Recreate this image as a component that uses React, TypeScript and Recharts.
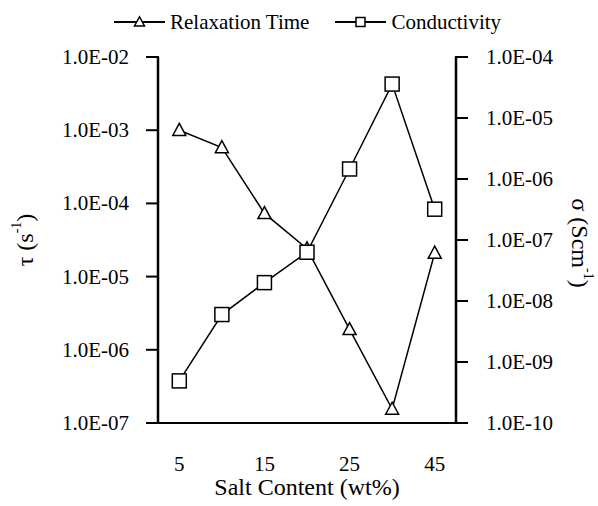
import { Legend, Line, LineChart, XAxis, YAxis } from "recharts";

const saltContent = ["5", "10", "15", "20", "25", "35", "45"];
const relaxationTime = [1.0e-3, 5.8e-4, 7.3e-5, 2.4e-5, 1.9e-6, 1.55e-7, 2.1e-5];
const conductivity = [4.9e-10, 6.0e-9, 2.0e-8, 6.3e-8, 1.46e-6, 3.6e-5, 3.2e-7];
const tauTicks = [1e-7, 1e-6, 1e-5, 1e-4, 1e-3, 1e-2];
const sigmaTicks = [1e-10, 1e-9, 1e-8, 1e-7, 1e-6, 1e-5, 1e-4];

const data = saltContent.map((c, i) => ({
  salt: c,
  tau: relaxationTime[i],
  sigma: conductivity[i],
}));

const FONT = "Liberation Serif";
const FS = 21;
const TITLE_FS = 24;
const XPAD = { left: 21.3, right: 21.3 };

function sci(v: number): string {
  const e = Math.round(Math.log10(v));
  const sign = e < 0 ? "-" : "+";
  return `1.0E${sign}${String(Math.abs(e)).padStart(2, "0")}`;
}

function TriangleDot({ cx, cy, r = 6.5 }: { cx: number; cy: number; r?: number }) {
  return (
    <polygon
      points={`${cx},${cy - r * 1.05} ${cx - r},${cy + r * 0.8} ${cx + r},${cy + r * 0.8}`}
      fill="#fff"
      stroke="#000"
      strokeWidth={1.5}
    />
  );
}

function SquareDot({ cx, cy, s = 7 }: { cx: number; cy: number; s?: number }) {
  return (
    <rect x={cx - s} y={cy - s} width={s * 2} height={s * 2} fill="#fff" stroke="#000" strokeWidth={1.5} />
  );
}

function LeftTick(p: any) {
  const { x, y, payload } = p;
  return (
    <g>
      <line x1={x - 6} x2={x + 7} y1={y} y2={y} stroke="#000" strokeWidth={2} />
      <text x={x - 23} y={y} textAnchor="end" dominantBaseline="central" fontSize={FS} fontFamily={FONT} fill="#000">
        {sci(payload.value)}
      </text>
    </g>
  );
}

function RightTick(p: any) {
  const { x, y, payload } = p;
  return (
    <g>
      <line x1={x - 7} x2={x + 6} y1={y} y2={y} stroke="#000" strokeWidth={2} />
      <text x={x + 24} y={y} textAnchor="start" dominantBaseline="central" fontSize={FS} fontFamily={FONT} fill="#000">
        {sci(payload.value)}
      </text>
    </g>
  );
}

function TauLabel(p: any) {
  const vb = p.viewBox || {};
  const x = vb.x + 25;
  const y = vb.y + vb.height / 2;
  return (
    <text
      x={x}
      y={y}
      transform={`rotate(-90, ${x}, ${y})`}
      textAnchor="middle"
      dominantBaseline="central"
      fontSize={TITLE_FS}
      fontFamily={FONT}
      fill="#000"
    >
      τ (s<tspan fontSize={14} dy={-9}>-1</tspan>
      <tspan dy={9}>)</tspan>
    </text>
  );
}

function SigmaLabel(p: any) {
  const vb = p.viewBox || {};
  const x = vb.x + 124;
  const y = vb.y + vb.height / 2 + 3;
  return (
    <text
      x={x}
      y={y}
      transform={`rotate(90, ${x}, ${y})`}
      textAnchor="middle"
      dominantBaseline="central"
      fontSize={TITLE_FS}
      fontFamily={FONT}
      fill="#000"
    >
      σ (Scm<tspan fontSize={14} dy={-9}>-1</tspan>
      <tspan dy={9}>)</tspan>
    </text>
  );
}

function LegendIcon({ kind }: { kind: "tri" | "sq" }) {
  return (
    <svg width={51} height={20} style={{ display: "block" }}>
      <line x1={0} x2={51} y1={10} y2={10} stroke="#000" strokeWidth={2} />
      {kind === "tri" ? <TriangleDot cx={25.5} cy={10} r={5} /> : <SquareDot cx={25.5} cy={10} s={4.5} />}
    </svg>
  );
}

function renderLegend() {
  const items: { kind: "tri" | "sq"; label: string }[] = [
    { kind: "tri", label: "Relaxation Time" },
    { kind: "sq", label: "Conductivity" },
  ];
  return (
    <div
      style={{
        height: 52,
        display: "flex",
        alignItems: "flex-start",
        paddingLeft: 114,
        paddingTop: 6,
        boxSizing: "border-box",
        fontFamily: FONT,
        fontSize: FS,
        lineHeight: "22px",
        color: "#000",
      }}
    >
      {items.map((it, i) => (
        <div key={it.label} style={{ display: "flex", alignItems: "center", marginLeft: i ? 26 : 0 }}>
          <LegendIcon kind={it.kind} />
          <span style={{ marginLeft: 5 }}>{it.label}</span>
        </div>
      ))}
    </div>
  );
}

export default function App() {
  return (
    <div style={{ position: "absolute", left: 0, top: 0, background: "#fff", fontFamily: FONT }}>
      <LineChart width={598} height={506} data={data} margin={{ top: 5, right: 0, bottom: 0, left: 0 }}>
        <Legend verticalAlign="top" align="left" content={renderLegend} wrapperStyle={{ top: 5, left: 0, width: 598 }} />
        <XAxis
          dataKey="salt"
          height={83}
          interval={1}
          padding={XPAD}
          tickLine={false}
          tickMargin={27}
          axisLine={{ stroke: "#000", strokeWidth: 2 }}
          tick={{ fill: "#000", fontSize: FS, fontFamily: FONT }}
          label={{ value: "Salt Content (wt%)", position: "insideBottom", offset: 11, fill: "#000", fontSize: TITLE_FS, fontFamily: FONT }}
        />
        <XAxis
          xAxisId="top"
          dataKey="salt"
          orientation="top"
          height={0}
          padding={XPAD}
          tick={false}
          tickLine={false}
          axisLine={{ stroke: "#000", strokeWidth: 2 }}
        />
        <YAxis
          yAxisId="tau"
          scale="log"
          domain={[1e-7, 1e-2]}
          ticks={tauTicks}
          allowDataOverflow
          width={158}
          tickLine={false}
          tickMargin={0}
          axisLine={{ stroke: "#000", strokeWidth: 2.5 }}
          tick={LeftTick}
          label={<TauLabel />}
        />
        <YAxis
          yAxisId="sigma"
          orientation="right"
          scale="log"
          domain={[1e-10, 1e-4]}
          ticks={sigmaTicks}
          allowDataOverflow
          width={142}
          tickLine={false}
          tickMargin={0}
          axisLine={{ stroke: "#000", strokeWidth: 2.5 }}
          tick={RightTick}
          label={<SigmaLabel />}
        />
        <Line
          yAxisId="tau"
          dataKey="tau"
          type="linear"
          stroke="#000"
          strokeWidth={1.5}
          dot={(p: any) => <TriangleDot key={`t${p.index}`} cx={p.cx} cy={p.cy} />}
          isAnimationActive={false}
        />
        <Line
          yAxisId="sigma"
          dataKey="sigma"
          type="linear"
          stroke="#000"
          strokeWidth={1.5}
          dot={(p: any) => <SquareDot key={`s${p.index}`} cx={p.cx} cy={p.cy} />}
          isAnimationActive={false}
        />
      </LineChart>
    </div>
  );
}
